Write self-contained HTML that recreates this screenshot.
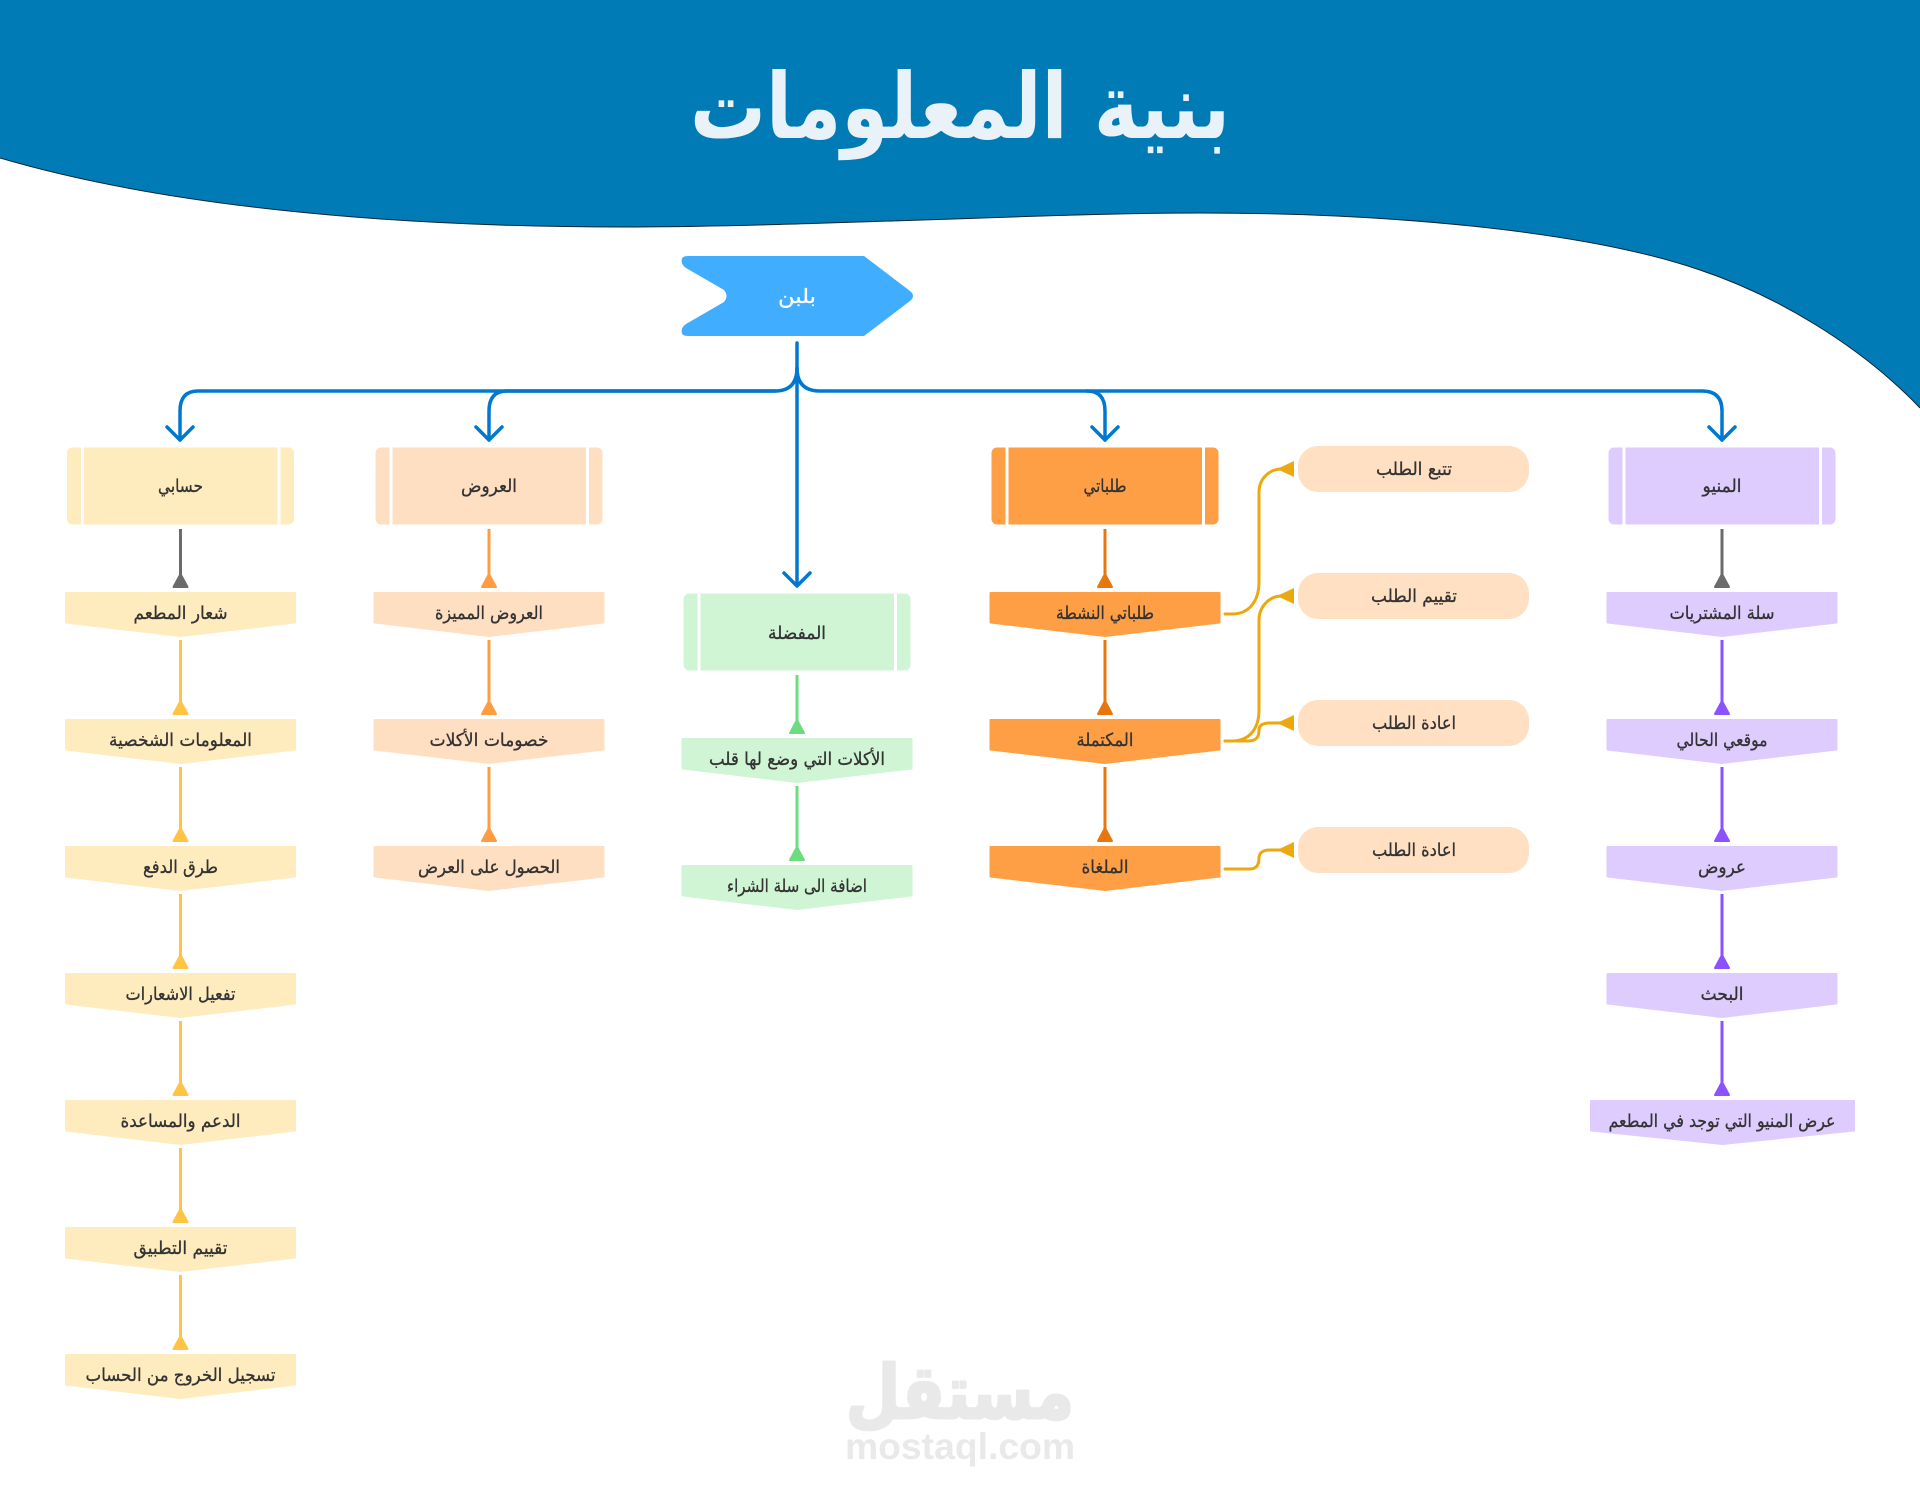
<!DOCTYPE html>
<html lang="ar">
<head>
<meta charset="utf-8">
<title>بنية المعلومات</title>
<style>
html,body{margin:0;padding:0;background:#fff}
body{width:1920px;height:1498px;overflow:hidden}
svg{display:block}
text{font-family:"DejaVu Sans","Liberation Sans",sans-serif;text-anchor:middle;fill:#333;font-size:18px;stroke:#333;stroke-width:.3}
.w{stroke-linejoin:round;stroke-width:2}
.c{stroke-linejoin:round;stroke-linecap:round}
</style>
</head>
<body>
<svg width="1920" height="1498" viewBox="0 0 1920 1498" xmlns="http://www.w3.org/2000/svg">
<defs>
<path id="pt" class="w" d="M-114.5,1H114.5V30.5L0,44L-114.5,30.5Z"/>
<path id="pw" class="w" d="M-131.5,1H131.5V30.5L0,44L-131.5,30.5Z"/>
<g id="rc">
<rect x="-113" y="1" width="226" height="76" rx="5"/>
<rect x="-99.5" y="-1" width="3" height="80" fill="#fff" stroke="none"/>
<rect x="97" y="-1" width="3" height="80" fill="#fff" stroke="none"/>
</g>
<g id="a0"><path d="M0,-63V-12" stroke-width="3" fill="none"/><path class="w" d="M0,-18L-7,-5H7Z"/></g>
<g id="a"><path d="M0,48V112" stroke-width="3" fill="none"/><path class="w" d="M0,109L-7,122H7Z"/></g>
</defs>

<!-- header -->
<path d="M0,158C160,205 380,227 624,227C800,227 1050,213 1200,213C1380,213 1580,229 1700,270C1775,295 1860,345 1920,408V0H0Z" fill="#007BB6"/>
<path d="M0,158C160,205 380,227 624,227C800,227 1050,213 1200,213C1380,213 1580,229 1700,270C1775,295 1860,345 1920,408" fill="none" stroke="#123" stroke-width="1"/>
<text x="960" y="138" textLength="540" lengthAdjust="spacingAndGlyphs" style="fill:#E8F2F8;stroke:none;font-size:91px;font-weight:bold">بنية المعلومات</text>

<!-- root -->
<path d="M688,256H864L910,291Q916,296 910,301L864,336H688Q680,336 682,329Q683,326 686,324L724,302Q729,296 724,290L686,268Q683,266 682,263Q680,256 688,256Z" fill="#40ADFF"/>
<text x="797" y="303" textLength="38" lengthAdjust="spacingAndGlyphs" style="fill:#fff;stroke:#fff;font-size:20px">بلبن</text>

<!-- blue connectors -->
<g fill="none" stroke="#0078D0" stroke-width="3.5" class="c">
<path d="M797,343V585"/>
<path d="M797,368Q797,391 775,391H198Q180,391 180,411V440"/>
<path d="M775,391H507Q489,391 489,411V440"/>
<path d="M797,368Q797,391 820,391H1702Q1722,391 1722,411V440"/>
<path d="M1087,391Q1105,391 1105,411V440"/>
<path d="M167,427L180,440L193,427"/>
<path d="M476,427L489,440L502,427"/>
<path d="M1092,427L1105,440L1118,427"/>
<path d="M1709,427L1722,440L1735,427"/>
<path d="M784,573L797,586L810,573"/>
</g>

<!-- column 1 -->
<g fill="#FEEBBE" stroke="#FEEBBE">
<use href="#rc" x="180.5" y="447"/>
<use href="#pt" x="180.5" y="592"/><use href="#pt" x="180.5" y="719"/><use href="#pt" x="180.5" y="846"/><use href="#pt" x="180.5" y="973"/><use href="#pt" x="180.5" y="1100"/><use href="#pt" x="180.5" y="1227"/><use href="#pt" x="180.5" y="1354"/>
</g>
<use href="#a0" x="180.5" y="592" fill="#6B6B6B" stroke="#6B6B6B"/>
<g fill="#FFC444" stroke="#FFC444">
<use href="#a" x="180.5" y="592"/><use href="#a" x="180.5" y="719"/><use href="#a" x="180.5" y="846"/><use href="#a" x="180.5" y="973"/><use href="#a" x="180.5" y="1100"/><use href="#a" x="180.5" y="1227"/>
</g>
<text x="180.5" y="492" textLength="45" lengthAdjust="spacingAndGlyphs">حسابي</text>
<text x="180.5" y="619" textLength="94" lengthAdjust="spacingAndGlyphs">شعار  المطعم</text>
<text x="180.5" y="746" textLength="143" lengthAdjust="spacingAndGlyphs">المعلومات الشخصية</text>
<text x="180.5" y="873" textLength="75" lengthAdjust="spacingAndGlyphs">طرق الدفع</text>
<text x="180.5" y="1000" textLength="110" lengthAdjust="spacingAndGlyphs">تفعيل الاشعارات</text>
<text x="180.5" y="1127" textLength="120" lengthAdjust="spacingAndGlyphs">الدعم والمساعدة</text>
<text x="180.5" y="1254" textLength="94" lengthAdjust="spacingAndGlyphs">تقييم التطبيق</text>
<text x="180.5" y="1381" textLength="190" lengthAdjust="spacingAndGlyphs">تسجيل الخروج من الحساب</text>

<!-- column 2 -->
<g fill="#FFDFC2" stroke="#FFDFC2">
<use href="#rc" x="489" y="447"/>
<use href="#pt" x="489" y="592"/><use href="#pt" x="489" y="719"/><use href="#pt" x="489" y="846"/>
</g>
<g fill="#FF9C40" stroke="#FF9C40">
<use href="#a0" x="489" y="592"/><use href="#a" x="489" y="592"/><use href="#a" x="489" y="719"/>
</g>
<text x="489" y="492" textLength="56" lengthAdjust="spacingAndGlyphs">العروض</text>
<text x="489" y="619" textLength="108" lengthAdjust="spacingAndGlyphs">العروض المميزة</text>
<text x="489" y="746" textLength="119" lengthAdjust="spacingAndGlyphs">خصومات الأكلات</text>
<text x="489" y="873" textLength="142" lengthAdjust="spacingAndGlyphs">الحصول على العرض</text>

<!-- column 3 -->
<g fill="#CFF5D5" stroke="#CFF5D5">
<use href="#rc" x="797" y="593"/>
<use href="#pt" x="797" y="738"/><use href="#pt" x="797" y="865"/>
</g>
<g fill="#6EDB7E" stroke="#6EDB7E">
<use href="#a0" x="797" y="738"/><use href="#a" x="797" y="738"/>
</g>
<text x="797" y="639" textLength="58" lengthAdjust="spacingAndGlyphs">المفضلة</text>
<text x="797" y="765" textLength="176" lengthAdjust="spacingAndGlyphs">الأكلات التي وضع لها قلب</text>
<text x="797" y="892" textLength="140" lengthAdjust="spacingAndGlyphs">اضافة الى سلة الشراء</text>

<!-- column 4 -->
<g fill="#FF9F45" stroke="#FF9F45">
<use href="#rc" x="1105" y="447"/>
<use href="#pt" x="1105" y="592"/><use href="#pt" x="1105" y="719"/><use href="#pt" x="1105" y="846"/>
</g>
<g fill="#E8760F" stroke="#E8760F">
<use href="#a0" x="1105" y="592"/><use href="#a" x="1105" y="592"/><use href="#a" x="1105" y="719"/>
</g>
<text x="1105" y="492" textLength="43" lengthAdjust="spacingAndGlyphs">طلباتي</text>
<text x="1105" y="619" textLength="98" lengthAdjust="spacingAndGlyphs">طلباتي النشطة</text>
<text x="1105" y="746" textLength="57" lengthAdjust="spacingAndGlyphs">المكتملة</text>
<text x="1105" y="873" textLength="47" lengthAdjust="spacingAndGlyphs">الملغاة</text>

<!-- pills -->
<g fill="#FFE0C2">
<rect x="1298" y="446" width="231" height="46" rx="20"/>
<rect x="1298" y="573" width="231" height="46" rx="20"/>
<rect x="1298" y="700" width="231" height="46" rx="20"/>
<rect x="1298" y="827" width="231" height="46" rx="20"/>
</g>
<text x="1414" y="475" textLength="76" lengthAdjust="spacingAndGlyphs">تتبع الطلب</text>
<text x="1414" y="602" textLength="86" lengthAdjust="spacingAndGlyphs">تقييم الطلب</text>
<text x="1414" y="729" textLength="84" lengthAdjust="spacingAndGlyphs">اعادة الطلب</text>
<text x="1414" y="856" textLength="84" lengthAdjust="spacingAndGlyphs">اعادة الطلب</text>

<!-- amber connectors -->
<g fill="none" stroke="#EBA90F" stroke-width="3" class="c">
<path d="M1225,614H1232C1250,614 1259,600 1259,582V492C1259,480 1268,469 1282,469"/>
<path d="M1225,741H1232C1250,741 1259,728 1259,710V620C1259,608 1268,596 1282,596"/>
<path d="M1225,741H1248C1258,741 1259,735 1259,730C1259,725 1263,723 1270,723H1282"/>
<path d="M1225,869H1250C1257,869 1259,864 1259,858C1259,853 1263,850 1270,850H1282"/>
</g>
<g fill="#EBA90F">
<path d="M1277,469L1294,461V477Z"/>
<path d="M1277,596L1294,588V604Z"/>
<path d="M1277,723L1294,715V731Z"/>
<path d="M1277,850L1294,842V858Z"/>
</g>

<!-- column 5 -->
<g fill="#DECCFF" stroke="#DECCFF">
<use href="#rc" x="1722" y="447"/>
<use href="#pt" x="1722" y="592"/><use href="#pt" x="1722" y="719"/><use href="#pt" x="1722" y="846"/><use href="#pt" x="1722" y="973"/>
<use href="#pw" x="1722.5" y="1100"/>
</g>
<use href="#a0" x="1722" y="592" fill="#6B6B6B" stroke="#6B6B6B"/>
<g fill="#8C52FF" stroke="#8C52FF">
<use href="#a" x="1722" y="592"/><use href="#a" x="1722" y="719"/><use href="#a" x="1722" y="846"/><use href="#a" x="1722" y="973"/>
</g>
<text x="1722" y="492" textLength="39" lengthAdjust="spacingAndGlyphs">المنيو</text>
<text x="1722" y="619" textLength="105" lengthAdjust="spacingAndGlyphs">سلة المشتريات</text>
<text x="1722" y="746" textLength="91" lengthAdjust="spacingAndGlyphs">موقعي الحالي</text>
<text x="1722" y="873" textLength="48" lengthAdjust="spacingAndGlyphs">عروض</text>
<text x="1722" y="1000" textLength="43" lengthAdjust="spacingAndGlyphs">البحث</text>
<text x="1722" y="1127" textLength="227" lengthAdjust="spacingAndGlyphs">عرض المنيو التي توجد في المطعم</text>

<!-- watermark -->
<text x="960" y="1418" textLength="228" lengthAdjust="spacingAndGlyphs" style="fill:#E9E9E9;stroke:#E9E9E9;stroke-width:3;stroke-linejoin:round;font-size:74px;font-weight:bold">مستقل</text>
<text x="960" y="1459" textLength="230" lengthAdjust="spacingAndGlyphs" style="fill:#E9E9E9;stroke:none;font-family:'Liberation Sans',sans-serif;font-size:37px;font-weight:bold">mostaql.com</text>
</svg>
</body>
</html>
